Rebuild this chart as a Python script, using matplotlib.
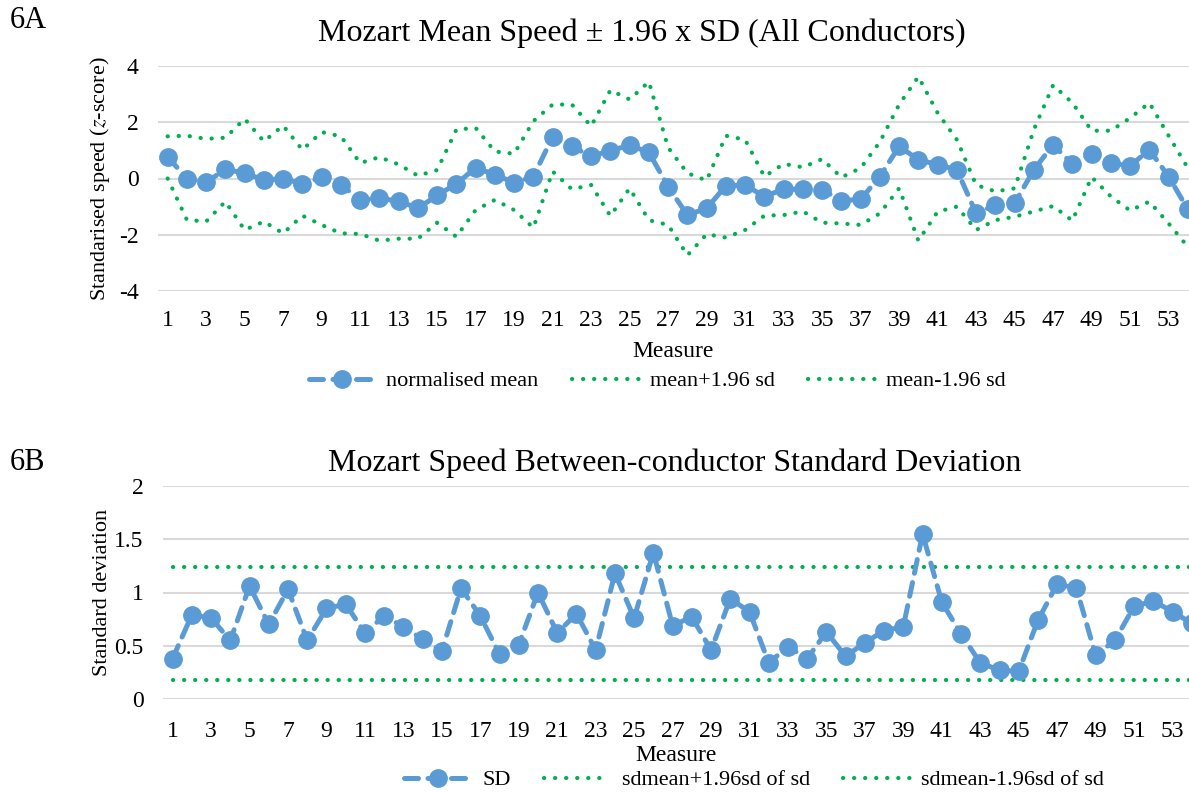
import matplotlib
matplotlib.use("Agg")
import matplotlib.pyplot as plt
import numpy as np

plt.rcParams['font.family'] = ['Liberation Serif', 'DejaVu Serif']
plt.rcParams['mathtext.fontset'] = 'stix'

# 6A data: normalised mean speed and +/- 1.96 SD bands per measure
mean_norm = [0.77, 0.0, -0.14, 0.33, 0.19, -0.05, 0.0, -0.19, 0.04, -0.22,
             -0.76, -0.71, -0.80, -1.06, -0.6, -0.19, 0.38, 0.14, -0.15, 0.07,
             1.48, 1.14, 0.79, 0.99, 1.18, 0.93, -0.29, -1.30, -1.06, -0.26,
             -0.23, -0.64, -0.38, -0.38, -0.40, -0.79, -0.74, 0.07, 1.14, 0.67,
             0.49, 0.31, -1.24, -0.94, -0.88, 0.31, 1.20, 0.51, 0.88, 0.55,
             0.45, 1.02, 0.07, -1.10]
mean_upper = [1.5, 1.52, 1.41, 1.45, 2.12, 1.32, 1.88, 1.02, 1.65, 1.5,
              0.55, 0.76, 0.5, 0.1, 0.3, 1.74, 1.8, 0.96, 0.88, 2.04,
              2.63, 2.63, 1.86, 3.14, 2.81, 3.44, 1.1, 0.19, -0.07, 1.52,
              1.38, 0.07, 0.52, 0.4, 0.69, 0.04, 0.37, 1.3, 2.63, 3.62,
              2.33, 1.38, -0.23, -0.46, -0.35, 1.74, 3.32, 2.69, 1.7, 1.7,
              2.15, 2.69, 1.52, 0.37]
mean_lower = [0.0, -1.47, -1.53, -0.82, -1.83, -1.53, -1.95, -1.32, -1.65, -1.95,
              -1.97, -2.21, -2.14, -2.14, -1.57, -2.07, -1.12, -0.76, -1.12, -1.75,
              0.25, -0.38, -0.23, -1.33, -0.35, -1.48, -1.65, -2.73, -1.98, -2.1,
              -1.83, -1.32, -1.30, -1.17, -1.57, -1.6, -1.65, -1.24, -0.35, -2.21,
              -1.18, -1.0, -1.83, -1.48, -1.36, -1.17, -0.98, -1.5, 0.05, -0.64,
              -1.14, -0.82, -1.6, -2.43]

# 6B data: between-conductor SD per measure
sd = [0.38, 0.79, 0.76, 0.55, 1.06, 0.70, 1.03, 0.55, 0.85, 0.89,
      0.62, 0.78, 0.68, 0.56, 0.45, 1.04, 0.78, 0.42, 0.51, 1.0,
      0.62, 0.8, 0.46, 1.18, 0.76, 1.375, 0.69, 0.77, 0.46, 0.94,
      0.82, 0.34, 0.49, 0.38, 0.63, 0.40, 0.53, 0.64, 0.68, 1.55,
      0.91, 0.61, 0.34, 0.27, 0.26, 0.74, 1.08, 1.04, 0.41, 0.55,
      0.87, 0.92, 0.82, 0.71]
sd_upper = 1.24
sd_lower = 0.175

measures = np.arange(1, len(mean_norm) + 1)
xticks = list(range(1, 54, 2))

BLUE = '#5B9BD5'
GREEN = '#00B050'
GRID = '#D9D9D9'

fig = plt.figure(figsize=(11.89, 7.92), dpi=100)


def style_axes(ax, ylim, yticks, yticklabels, xpad):
    ax.set_ylim(*ylim)
    ax.set_yticks(yticks)
    ax.set_yticklabels(yticklabels)
    ax.set_xticks(xticks)
    ax.set_xticklabels([str(t) for t in xticks])
    for s in ax.spines.values():
        s.set_visible(False)
    ax.grid(axis='y', color=GRID, linewidth=1.5)
    ax.set_axisbelow(True)
    ax.tick_params(length=0, labelsize=17)
    ax.tick_params(axis='x', pad=xpad)
    ax.tick_params(axis='y', pad=14)


def draw_series(ax, y_main, y_hi, y_lo, labels):
    ax.plot(measures, y_main, color=BLUE, linewidth=3.6, linestyle=(0, (2.8, 1.9)),
            dash_capstyle='round', marker='o', markersize=12.5, label=labels[0], zorder=3)
    ax.plot(measures, y_hi, color=GREEN, linewidth=3.0, linestyle=(0, (0.05, 2.6)),
            dash_capstyle='round', label=labels[1], zorder=2)
    ax.plot(measures, y_lo, color=GREEN, linewidth=3.0, linestyle=(0, (0.05, 2.6)),
            dash_capstyle='round', label=labels[2], zorder=2)


legend_kw = dict(bbox_transform=fig.transFigure, ncol=3, frameon=False, fontsize=16,
                 handlelength=3.0, columnspacing=1.5, handletextpad=0.5)

# ---- 6A ----
ax1 = fig.add_axes([158 / 1189, 1 - 291 / 792, 1031 / 1189, 225 / 792])
draw_series(ax1, mean_norm, mean_upper, mean_lower,
            ["normalised mean", "mean+1.96 sd", "mean-1.96 sd"])
style_axes(ax1, (-4, 4), [-4, -2, 0, 2, 4], ['-4', '-2', '0', '2', '4'], 14)
ax1.set_xlim(0.5, 0.5 + 1031 / 19.25)
ax1.set_xlabel("Measure", fontsize=17, labelpad=7)
ax1.set_ylabel("Standarised speed ($\\mathit{z}$-score)", fontsize=16)
ax1.yaxis.set_label_coords(-0.045, 0.5)
ax1.legend(loc='center', bbox_to_anchor=(657 / 1189, 1 - 381 / 792), **legend_kw)

fig.text(642 / 1189, 1 - 33 / 792, "Mozart Mean Speed \u00b1 1.96 x SD (All Conductors)",
         ha='center', va='center', fontsize=23)
fig.text(10 / 1189, 1 - 20 / 792, "6A", ha='left', va='center', fontsize=22)

# ---- 6B ----
ax2 = fig.add_axes([163 / 1189, 1 - 699 / 792, 1026 / 1189, 213 / 792])
draw_series(ax2, sd, [sd_upper] * len(sd), [sd_lower] * len(sd),
            ["SD", "sdmean+1.96sd of sd", "sdmean-1.96sd of sd"])
style_axes(ax2, (0, 2), [0, 0.5, 1, 1.5, 2], ['0', '0.5', '1', '1.5', '2'], 16)
ax2.set_xlim(0.5, 0.5 + 1026 / 19.23)
ax2.set_xlabel("Measure", fontsize=17, labelpad=2)
ax2.set_ylabel("Standard deviation", fontsize=16)
ax2.yaxis.set_label_coords(-0.05, 0.5)
ax2.legend(loc='center', bbox_to_anchor=(754 / 1189, 1 - 780 / 792), **legend_kw)

fig.text(675 / 1189, 1 - 463 / 792, "Mozart Speed Between-conductor Standard Deviation",
         ha='center', va='center', fontsize=23)
fig.text(10 / 1189, 1 - 462 / 792, "6B", ha='left', va='center', fontsize=22)

fig.savefig("out.png", dpi=100)
